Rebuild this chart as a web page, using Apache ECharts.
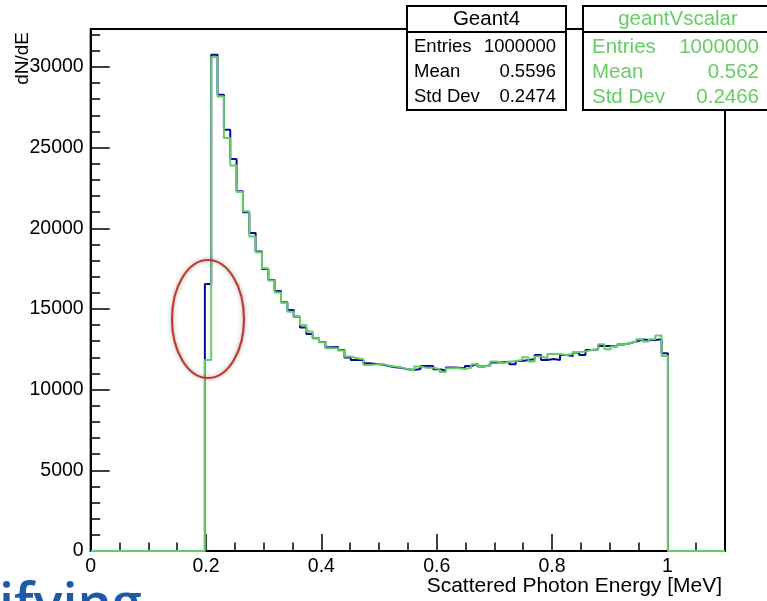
<!DOCTYPE html>
<html>
<head>
<meta charset="utf-8">
<script src="https://cdn.jsdelivr.net/npm/echarts@6/dist/echarts.min.js"></script>
<style>html,body{margin:0;padding:0;background:#fff}#c{width:767px;height:601px}</style>
</head>
<body>
<div id="c"></div>
<script>
// ---------- data ----------
const xMin = 0, xMax = 1.1, nBins = 100;
const yMax = 32350;
const xTickLabels = ['0', '0.2', '0.4', '0.6', '0.8', '1'];
const yTickLabels = ['0', '5000', '10000', '15000', '20000', '25000', '30000'];
const seriesNames = ['Geant4', 'geantVscalar'];
const geant4 = [
  0,0,0,0,0,0,0,0,0,0,0,0,0,0,0,0,0,0,
  16550,30750,28270,26100,24300,22290,20990,19700,18560,17480,
  16800,16120,15420,14940,14510,13850,13450,13190,12960,12630,
  12650,12460,11990,11840,11840,11640,11590,11560,11470,11390,
  11350,11270,11220,11280,11470,11470,11270,11180,11370,11350,
  11330,11470,11590,11430,11510,11680,11700,11730,11570,11780,
  11840,11890,12150,11840,11900,11840,12150,12090,12300,12150,
  12460,12490,12710,12710,12670,12800,12880,12980,13100,13080,
  13080,13130,12260,
  0,0,0,0,0,0,0,0,0
];
const geantVscalar = [
  0,0,0,0,0,0,0,0,0,0,0,0,0,0,0,0,0,0,
  11840,30610,28170,25590,23890,22250,21050,19490,18520,17530,
  16760,16020,15390,14820,14530,14010,13600,13190,12940,12570,
  12560,12420,12050,11950,11890,11530,11560,11590,11500,11430,
  11380,11270,11190,11430,11350,11350,11280,11100,11320,11320,
  11280,11350,11570,11430,11510,11740,11640,11730,11780,11840,
  12010,11740,12050,11950,12210,12210,12150,12210,12340,12360,
  12460,12490,12820,12510,12670,12800,12880,12980,13130,12980,
  13130,13350,12090,
  0,0,0,0,0,0,0,0,0
];
const statsGeant4 = [['Entries', '1000000'], ['Mean', '0.5596'], ['Std Dev', '0.2474']];
const statsScalar = [['Entries', '1000000'], ['Mean', '0.562'], ['Std Dev', '0.2466']];
const xAxisTitle = 'Scattered Photon Energy [MeV]';
const yAxisTitle = 'dN/dE';
const cornerText = 'ifying';

// ---------- build ----------
const binW = (xMax - xMin) / nBins;
function histSteps(vals) {
  const d = vals.map((v, i) => [xMin + i * binW, v]);
  d.push([xMax, vals[vals.length - 1]]);
  return d;
}
function fmtX(v) {
  const s = String(Math.round(v * 1000) / 1000);
  return xTickLabels.indexOf(s) >= 0 ? s : '';
}
function fmtY(v) {
  const s = String(Math.round(v));
  return yTickLabels.indexOf(s) >= 0 ? s : '';
}
const FONT = 'Liberation Sans';
const BLUE = '#0a0a9c', GREEN = '#66cc66';

const statsGraphics = [];
function statsBox(x, y, w, h, title, rows, color, hFont, rFont, lx, rx) {
  statsGraphics.push({ type: 'rect', z: 100, shape: { x: x, y: y, width: w, height: h },
    style: { fill: '#fff', stroke: '#000', lineWidth: 2 } });
  statsGraphics.push({ type: 'line', z: 101, shape: { x1: x, y1: 32, x2: x + w, y2: 32 },
    style: { stroke: '#000', lineWidth: 2 } });
  statsGraphics.push({ type: 'text', z: 102, x: x + w / 2, y: 19.5,
    style: { text: title, font: hFont + 'px "' + FONT + '"', fill: color, align: 'center', verticalAlign: 'middle' } });
  const ys = [47, 72, 97];
  rows.forEach((r, i) => {
    statsGraphics.push({ type: 'text', z: 102, x: lx, y: ys[i],
      style: { text: r[0], font: rFont + 'px "' + FONT + '"', fill: color, align: 'left', verticalAlign: 'middle' } });
    statsGraphics.push({ type: 'text', z: 102, x: rx, y: ys[i],
      style: { text: r[1], font: rFont + 'px "' + FONT + '"', fill: color, align: 'right', verticalAlign: 'middle' } });
  });
}
statsBox(407, 6, 159, 104, seriesNames[0], statsGeant4, '#000', 20.5, 18.5, 414, 556);
statsBox(583, 6, 190, 104, seriesNames[1], statsScalar, GREEN, 20.5, 20.5, 592, 759);

const chart = echarts.init(document.getElementById('c'), null, { renderer: 'canvas' });
const tickLabelStyle = { color: '#000', fontFamily: FONT, fontSize: 19.5 };
chart.setOption({
  animation: false,
  backgroundColor: '#fff',
  grid: { left: 90.7, right: 42, top: 29, bottom: 50, containLabel: false, outerBoundsMode: 'none',
    show: true, borderColor: '#000', borderWidth: 2, backgroundColor: 'transparent' },
  xAxis: [
    { type: 'value', min: xMin, max: xMax, interval: 0.2, position: 'bottom',
      axisLine: { show: true, lineStyle: { color: '#000', width: 2 } },
      axisTick: { show: true, inside: true, length: 17, lineStyle: { color: '#000', width: 1.5 } },
      axisLabel: { show: true, margin: 6, formatter: fmtX, ...tickLabelStyle },
      splitLine: { show: false } },
    { type: 'value', min: xMin, max: xMax, interval: 0.05, position: 'bottom',
      axisLine: { show: false }, axisLabel: { show: false }, splitLine: { show: false },
      axisTick: { show: true, inside: true, length: 8.5, lineStyle: { color: '#000', width: 1.5 } } }
  ],
  yAxis: [
    { type: 'value', min: 0, max: yMax, interval: 5000, position: 'left',
      axisLine: { show: true, lineStyle: { color: '#000', width: 2 } },
      axisTick: { show: true, inside: true, length: 19, lineStyle: { color: '#000', width: 1.5 } },
      axisLabel: { show: true, margin: 7, formatter: fmtY, ...tickLabelStyle },
      splitLine: { show: false } },
    { type: 'value', min: 0, max: yMax, interval: 1000, position: 'left',
      axisLine: { show: false }, axisLabel: { show: false }, splitLine: { show: false },
      axisTick: { show: true, inside: true, length: 9.5, lineStyle: { color: '#000', width: 1.5 } } }
  ],
  series: [
    { name: seriesNames[0], type: 'line', step: 'end', data: histSteps(geant4), showSymbol: false, clip: false,
      z: 3, lineStyle: { color: BLUE, width: 2 }, itemStyle: { color: BLUE } },
    { name: seriesNames[1], type: 'line', step: 'end', data: histSteps(geantVscalar), showSymbol: false, clip: false,
      z: 4, lineStyle: { color: GREEN, width: 2 }, itemStyle: { color: GREEN } }
  ],
  graphic: [
    { type: 'text', z: 50, x: 722, y: 586,
      style: { text: xAxisTitle, font: '21px "' + FONT + '"', fill: '#000', align: 'right', verticalAlign: 'middle' } },
    { type: 'text', z: 50, x: 23, y: 32, rotation: Math.PI / 2,
      style: { text: yAxisTitle, font: '19px "' + FONT + '"', fill: '#000', align: 'right', verticalAlign: 'middle' } },
    { type: 'ellipse', z: 60, shape: { cx: 208, cy: 319, rx: 36, ry: 59 },
      style: { fill: 'none', stroke: '#c23b33', lineWidth: 2.2, shadowBlur: 4, shadowColor: 'rgba(0,0,0,0.35)' } },
    { type: 'text', z: 50, x: -1, y: 580,
      style: { text: cornerText, font: '600 54px "Open Sans"', fill: '#1c5aa8', align: 'left', verticalAlign: 'top' } },
    ...statsGraphics
  ]
});
</script>
</body>
</html>
